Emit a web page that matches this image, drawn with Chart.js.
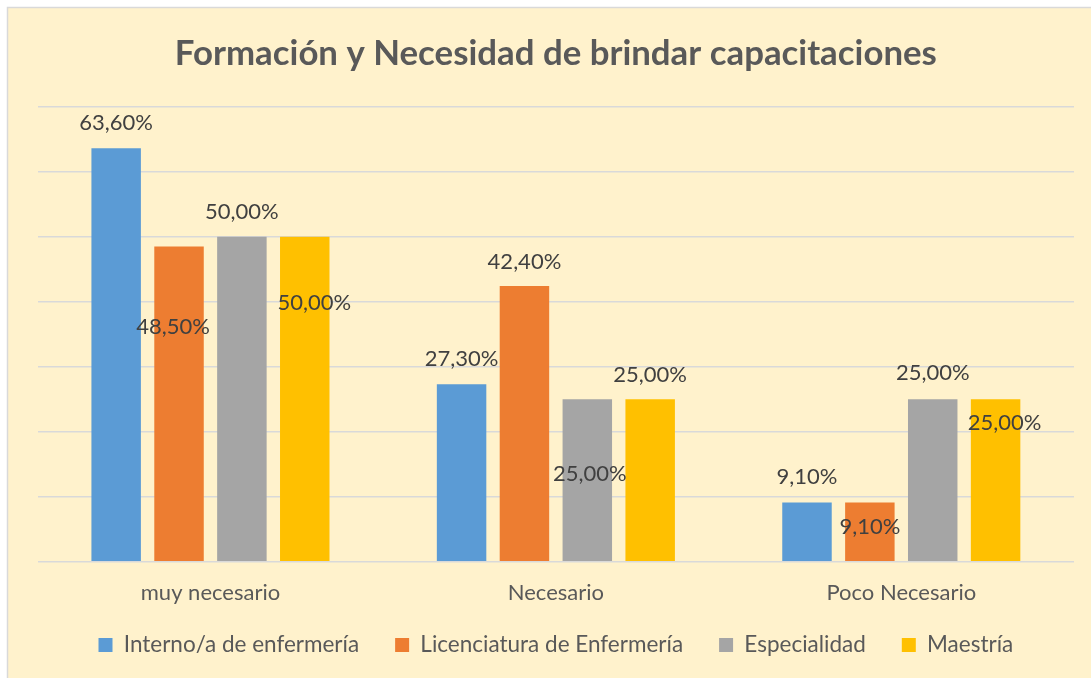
<!DOCTYPE html>
<html><head><meta charset="utf-8">
<script src="https://cdn.jsdelivr.net/npm/chart.js@4"></script>
<style>
html,body{margin:0;padding:0;background:#fff;overflow:hidden;}
canvas{display:block;}
</style></head><body>
<canvas id="c" width="1091" height="678"></canvas>
<script>
// ---- data ----
const categories = ['muy necesario', 'Necesario', 'Poco Necesario'];
const seriesNames = ['Interno/a de enfermería', 'Licenciatura de Enfermería', 'Especialidad', 'Maestría'];
const interno = [63.6, 27.3, 9.1];
const licenciatura = [48.5, 42.4, 9.1];
const especialidad = [50.0, 25.0, 25.0];
const maestria = [50.0, 25.0, 25.0];
const yMin = 0, yMax = 70, yStep = 10;

// ---- styles ----
const colors = ['#5B9BD5', '#ED7D31', '#A5A5A5', '#FFC000'];
const FONT = 'Lato, "Open Sans", sans-serif';
// data-label offsets (px) from bar top-centre, per series / category
const labelOffsets = [
  [[0, -25], [0, -25], [0, -26]],
  [[-6, 80], [0, -24.5], [0, 24]],
  [[0, -25], [2.5, 75], [0, -26]],
  [[9.5, 66.5], [0, -24], [9, 24]]
];

const bgPlugin = {
  id: 'bg',
  beforeDraw(chart) {
    const ctx = chart.ctx;
    ctx.save();
    ctx.fillStyle = '#ffffff';
    ctx.fillRect(0, 0, chart.width, chart.height);
    ctx.fillStyle = '#FFF2CC';
    ctx.fillRect(8, 8, chart.width - 8, chart.height - 8);
    ctx.strokeStyle = '#D9D9D9';
    ctx.lineWidth = 1.5;
    ctx.beginPath();
    ctx.moveTo(7.5, chart.height);
    ctx.lineTo(7.5, 7.5);
    ctx.lineTo(chart.width, 7.5);
    ctx.stroke();
    ctx.restore();
  }
};

const labelPlugin = {
  id: 'vlabels',
  afterDatasetsDraw(chart) {
    const ctx = chart.ctx;
    ctx.save();
    ctx.font = '22px ' + FONT;
    ctx.fillStyle = '#404040';
    ctx.textAlign = 'center';
    ctx.textBaseline = 'middle';
    chart.data.datasets.forEach((ds, di) => {
      const meta = chart.getDatasetMeta(di);
      meta.data.forEach((el, i) => {
        const v = ds.data[i];
        const txt = v.toFixed(2).replace('.', ',') + '%';
        const off = labelOffsets[di][i];
        ctx.fillText(txt, el.x + off[0], el.y + off[1]);
      });
    });
    ctx.restore();
  }
};

const seriesValues = [interno, licenciatura, especialidad, maestria];

new Chart(document.getElementById('c'), {
  type: 'bar',
  data: {
    labels: categories,
    datasets: seriesNames.map((n, i) => ({
      label: n,
      data: seriesValues[i],
      backgroundColor: colors[i],
      borderWidth: 0,
      categoryPercentage: 0.728,
      barPercentage: 0.787
    }))
  },
  options: {
    responsive: false,
    animation: false,
    devicePixelRatio: 1,
    layout: { padding: { left: 37.75, right: 17, top: 0, bottom: 11.75 } },
    plugins: {
      title: {
        display: true,
        text: 'Formación y Necesidad de brindar capacitaciones',
        color: '#595959',
        font: { family: FONT, size: 34.8, weight: 'bold', lineHeight: 1.2 },
        padding: { top: 33, bottom: 31.9 }
      },
      legend: {
        position: 'bottom',
        labels: {
          color: '#595959',
          font: { family: FONT, size: 22.5 },
          boxWidth: 14, boxHeight: 14,
          padding: 36
        }
      },
      tooltip: { enabled: false }
    },
    scales: {
      x: {
        grid: { display: false, drawTicks: false },
        border: { display: false },
        ticks: { color: '#595959', font: { family: FONT, size: 22 }, mirror: true, padding: -44.5 },
        afterFit(s) { s.height = 36.05; }
      },
      y: {
        min: yMin, max: yMax,
        ticks: { display: false, stepSize: yStep },
        grid: { color: '#D9D9D9', lineWidth: 1.5, drawTicks: false },
        border: { display: false },
        afterFit(s) { s.width = 0; }
      }
    }
  },
  plugins: [bgPlugin, labelPlugin]
});
</script>
</body></html>
